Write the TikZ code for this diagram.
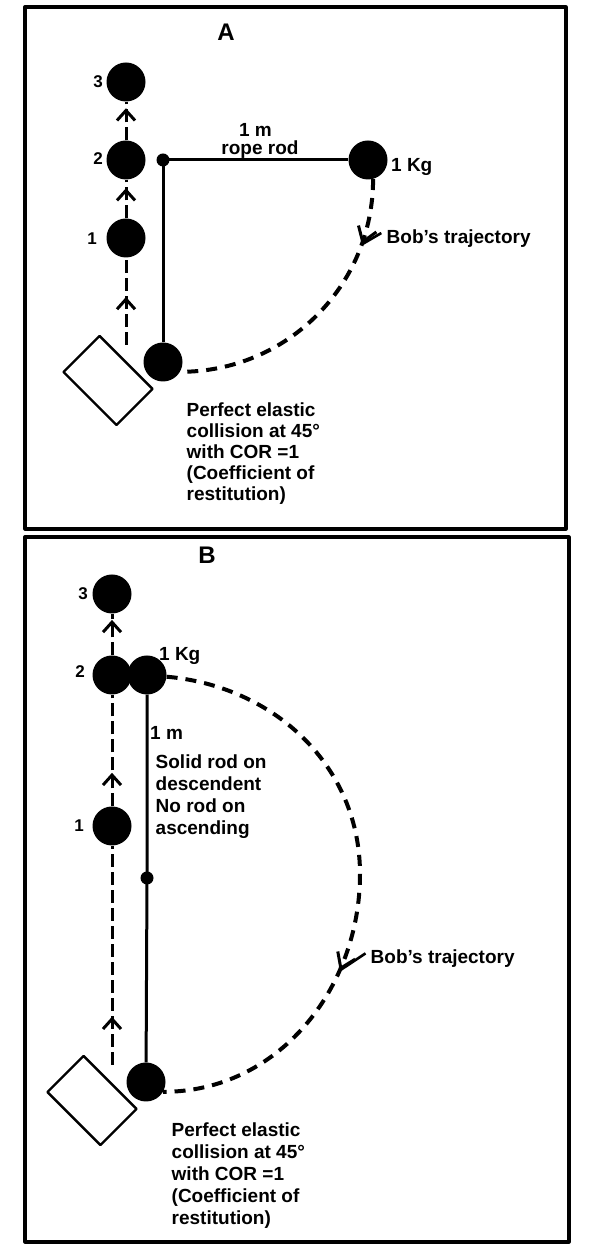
\documentclass[tikz,border=0pt]{standalone}
\usepackage{fontspec}
\setmainfont{Liberation Sans}
\usetikzlibrary{arrows.meta,decorations.markings,positioning}
\tikzset{
  ball/.style={circle, fill=black, minimum size=39pt, inner sep=0pt},
  pin/.style={circle, fill=black, minimum size=13pt, inner sep=0pt},
  block/.style={draw, line width=2.4pt, minimum width=75pt, minimum height=51pt, inner sep=0pt, rotate=-45},
  panel/.style={line width=3.2pt},
  rod/.style={line width=3pt},
  upline/.style={line width=3pt, dash pattern=on 13pt off 5pt},
  traj/.style={line width=4pt, dash pattern=on 11pt off 8pt},
  leader/.style={line width=2.6pt, shorten >=6pt},
  txt/.style={font=\fontsize{19}{#1}\selectfont\bfseries, inner sep=0pt},
  txt/.default=21,
  num/.style={font=\fontsize{17}{17}\selectfont\bfseries, inner sep=0pt, anchor=base},
  ttl/.style={font=\fontsize{24}{24}\selectfont\bfseries, inner sep=0pt, anchor=base},
  upmark/.style={postaction={decorate}, decoration={markings, mark=at position #1 with {\arrow{Straight Barb[length=10pt,width=18pt,line width=3pt]}}}},
  bobmark/.style 2 args={postaction={decorate}, decoration={markings, mark=at position #1 with {\arrow{Straight Barb[length=14pt,width=19pt,line width=3pt]}\coordinate (#2);}}}
}
\begin{document}
\begin{tikzpicture}[x=1pt, y=1pt, line join=round]
	\useasboundingbox (0,0) rectangle (600,1250);
	%%%%%%%%%%%%%%%%%%%%%%%%%%%%%%%%% panel A
	\coordinate (sA) at (126,905);
	\node[ball] (a3) at (126,1168) {};
	\node[ball] (a2) at (126,1090) {};
	\node[ball] (a1) at (126,1012) {};
	\node[pin] (pA) at (163,1090) {};
	\node[ball] (kgA) at (368,1090) {};
	\node[ball] (bobA) at (163,888) {};
	\node[block] (boxA) at (108,869.5) {};
	%%%%%%%%%%%%%%%%%%%%%%%%%%%%%%%%%
	\draw[panel] (25,721) rectangle (566,1243);
	\draw[upline, upmark=0.55] (sA) -- (a1.south);
	\draw[upline, upmark=0.78] (a1.north) -- (a2.south);
	\draw[upline, upmark=0.83] (a2.north) -- (a3.south);
	\draw[rod] (kgA) -- (pA.center) -- (bobA);
	\draw[traj, bobmark={0.22}{tipA}] (kgA.-75) to[out=-90, in=0] (bobA.-30);
	%%%%%%%%%%%%%%%%%%%%%%%%%%%%%%%%%
	\node[ttl] (ttlA) at (226,1209.5) {A};
	\node[num] (n3A) at (98,1162.7) {3};
	\node[num] (n2A) at (98,1085.7) {2};
	\node[num] (n1A) at (92,1005) {1};
	\node[txt, anchor=base] (lenA) at (255.5,1113) {1 m};
	\node[txt, anchor=base] (ropeA) at (260,1095) {rope rod};
	\node[txt, anchor=base west] (kgtxtA) at (391,1078) {1 Kg};
	\node[txt, anchor=base west] (bobtxtA) at (386.5,1006) {Bob’s trajectory};
	\draw[leader] (tipA) -- (bobtxtA.north west);
	\node[txt, anchor=north west, align=left] (noteA) at (186.5,847) {Perfect elastic\\collision at 45°\\with COR =1\\(Coefficient of\\restitution)};
	%%%%%%%%%%%%%%%%%%%%%%%%%%%%%%%%% panel B
	\coordinate (sB) at (112,185);
	\coordinate (rB) at (360,376);
	\node[ball] (b3) at (112,656) {};
	\node[ball] (b2) at (112,575) {};
	\node[ball] (b1) at (112,424) {};
	\node[ball] (kgB) at (147,575) {};
	\node[pin] (pB) at (147,372) {};
	\node[ball] (bobB) at (146,168) {};
	\node[block] (boxB) at (92,149.5) {};
	%%%%%%%%%%%%%%%%%%%%%%%%%%%%%%%%%
	\draw[panel] (25,8) rectangle (569,713);
	\draw[upline, upmark=0.22] (sB) -- (b1.south);
	\draw[upline, upmark=0.30] (b1.north) -- (b2.south);
	\draw[upline, upmark=0.85] (b2.north) -- (b3.south);
	\draw[rod] (kgB) -- (pB.center) -- (bobB);
	\draw[traj, bobmark={0.64}{tipB}] (kgB.-5) to[out=-5, in=90] (rB) to[out=-90, in=0] (bobB.-30);
	%%%%%%%%%%%%%%%%%%%%%%%%%%%%%%%%%
	\node[ttl] (ttlB) at (207,686.7) {B};
	\node[num] (n3B) at (83,650.7) {3};
	\node[num] (n2B) at (80,572.7) {2};
	\node[num] (n1B) at (79,418) {1};
	\node[txt, anchor=base west] (kgtxtB) at (159,589.3) {1 Kg};
	\node[txt, anchor=base west] (lenB) at (150,510) {1 m};
	\node[txt=22, anchor=north west, align=left] (rodtxtB) at (155.5,495.6) {Solid rod on\\descendent\\No rod on\\ascending};
	\node[txt, anchor=base west] (bobtxtB) at (370.5,286) {Bob’s trajectory};
	\draw[leader] (tipB) -- (bobtxtB.north west);
	\node[txt=22, anchor=north west, align=left] (noteB) at (171.5,127.2) {Perfect elastic\\collision at 45°\\with COR =1\\(Coefficient of\\restitution)};
	%%%%%%%%%%%%%%%%%%%%%%%%%%%%%%%%%
\end{tikzpicture}
\end{document}
